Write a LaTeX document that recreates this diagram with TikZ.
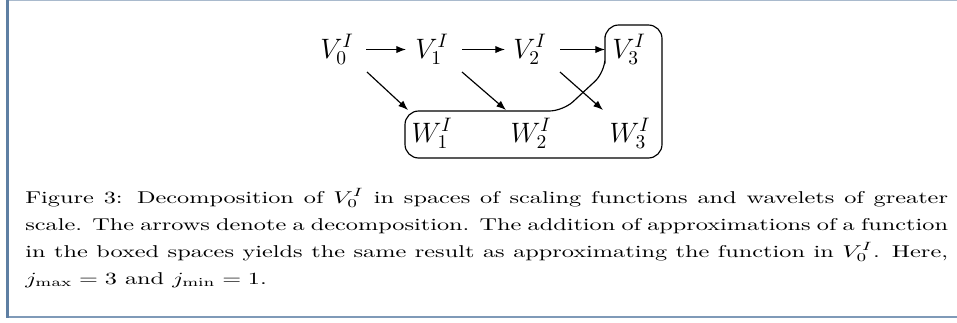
\documentclass[tikz,border=0pt]{standalone}
\usetikzlibrary{arrows.meta,calc}
\definecolor{frameL}{HTML}{5E7FA3}
\definecolor{frameB}{HTML}{7F9AB8}
\definecolor{frameT}{HTML}{A9BACD}
\begin{document}
\begin{tikzpicture}[x=0.513pt,y=-0.513pt,
  lbl/.style={inner sep=0pt,anchor=base,font=\fontsize{13.8}{17}\selectfont},
  arr/.style={-{Latex[length=5pt,width=3.8pt]},line width=0.6pt},
  boxline/.style={line width=0.6pt,rounded corners=7pt}]
\useasboundingbox (0,0) rectangle (957,322);
% frame
\draw[frameT,line width=1pt] (7,0.5) -- (957,0.5);
\draw[frameB,line width=1.2pt] (7,317) -- (957,317);
\draw[frameL,line width=1.2pt] (7.5,0) -- (7.5,318);
% nodes
\node[lbl] (V0) at (337,58) {$V_0^I$};
\node[lbl] (V1) at (432,58) {$V_1^I$};
\node[lbl] (V2) at (530,58) {$V_2^I$};
\node[lbl] (V3) at (629,58) {$V_3^I$};
\node[lbl] (W1) at (432,142) {$W_1^I$};
\node[lbl] (W2) at (531,142) {$W_2^I$};
\node[lbl] (W3) at (630,142) {$W_3^I$};
% horizontal arrows
\draw[arr] ($(V0.base)+(29,-8.5)$) -- ($(V1.base)+(-26,-8.5)$);
\draw[arr] ($(V1.base)+(30,-8.5)$) -- ($(V2.base)+(-25,-8.5)$);
\draw[arr] ($(V2.base)+(30,-8.5)$) -- ($(V3.base)+(-24,-8.5)$);
% diagonal arrows
\draw[arr] ($(V0.base)+(30,14)$) -- ($(W1.base)+(-24,-32)$);
\draw[arr] ($(V1.base)+(30,14)$) -- ($(W2.base)+(-25,-32)$);
\draw[arr] ($(V2.base)+(30,14)$) -- ($(W3.base)+(-27,-32)$);
% box
\draw[boxline] (605,50) -- (605,25) -- (662,25) -- (662,158) -- (405,158) -- (405,111) -- (563,111) -- (605,72) -- cycle;
% caption
\node[inner sep=0pt,anchor=base west] (cap) at (25,203)
{\scalebox{1.2456}[0.877]{\parbox[t]{380pt}{\fontsize{10}{15.8}\selectfont
Figure 3: Decomposition of $V_0^I$ in spaces of scaling functions and wavelets of greater\linebreak
scale. The arrows denote a decomposition. The addition of approximations of a function\linebreak
in the boxed spaces yields the same result as approximating the function in $V_0^I$. Here,\linebreak
$j_{\max}=3$ and $j_{\min}=1$.}}};
\end{tikzpicture}
\end{document}
